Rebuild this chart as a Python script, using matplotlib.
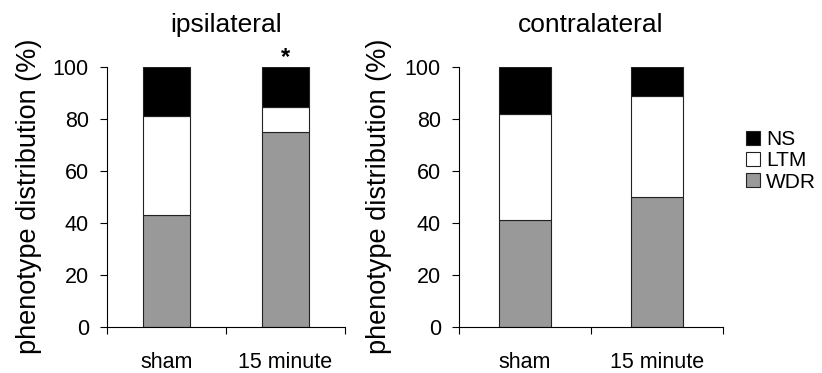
import matplotlib
matplotlib.use("Agg")
import matplotlib.pyplot as plt
from matplotlib.patches import Patch

plt.rcParams['font.family'] = ['Liberation Sans', 'DejaVu Sans']

categories = ["sham", "15 minute"]
ipsi_WDR = [43, 75]
ipsi_LTM = [38, 9.5]
ipsi_NS = [19, 15.5]
contra_WDR = [41, 50]
contra_LTM = [41, 39]
contra_NS = [18, 11]
titles = ["ipsilateral", "contralateral"]
series_names = ["NS", "LTM", "WDR"]
colors = {"WDR": "#999999", "LTM": "#ffffff", "NS": "#000000"}

fig = plt.figure(figsize=(8.22, 3.73), dpi=100)
W, H = 822, 373
ax1 = fig.add_axes([107 / W, (H - 327) / H, (345 - 107) / W, 260 / H])
ax2 = fig.add_axes([459 / W, (H - 327) / H, (723 - 459) / W, 260 / H])

data = [(ipsi_WDR, ipsi_LTM, ipsi_NS), (contra_WDR, contra_LTM, contra_NS)]
label_x = [29, 379]
x = list(range(len(categories)))
for ax, (wdr, ltm, ns), title, lx in zip([ax1, ax2], data, titles, label_x):
    bottoms2 = [a + b for a, b in zip(wdr, ltm)]
    ax.bar(x, wdr, width=0.4, color=colors["WDR"], edgecolor="#222222", linewidth=0.8)
    ax.bar(x, ltm, width=0.4, bottom=wdr, color=colors["LTM"], edgecolor="#222222", linewidth=0.8)
    ax.bar(x, ns, width=0.4, bottom=bottoms2, color=colors["NS"], edgecolor="#222222", linewidth=0.8)
    ax.set_xlim(-0.5, 1.5)
    ax.set_ylim(0, 100)
    ax.set_yticks([0, 20, 40, 60, 80, 100])
    ax.tick_params(axis='y', labelsize=15.5, length=5, width=0.8, pad=8)
    ax.set_xticks([-0.5, 0.5, 1.5])
    ax.set_xticklabels([])
    ax.tick_params(axis='x', length=5, width=0.8, direction='out')
    for xi, lab in zip(x, categories):
        ax.text(xi, -0.135, lab, transform=ax.get_xaxis_transform(), ha='center', va='center', fontsize=15.5)
    ax.spines['top'].set_visible(False)
    ax.spines['right'].set_visible(False)
    ax.spines['left'].set_linewidth(0.8)
    ax.spines['bottom'].set_linewidth(0.8)
    fig.text(lx / W, (H - 196) / H, "phenotype distribution (%)", rotation=90,
             ha='center', va='center', fontsize=19.5)
    ax.set_title(title, fontsize=19, pad=25)

ax1.text(1, 103.8, "*", ha='center', va='center', fontsize=17, fontweight='bold')

handles = [Patch(facecolor=colors[n], edgecolor="#222222", linewidth=0.8, label=n) for n in series_names]
fig.legend(handles=handles, loc='center left', bbox_to_anchor=(738 / W, (H - 161) / H),
           frameon=False, fontsize=15, handlelength=0.65, handleheight=0.65,
           handletextpad=0.3, labelspacing=0.1, borderaxespad=0)

fig.savefig("out.png", dpi=100)
